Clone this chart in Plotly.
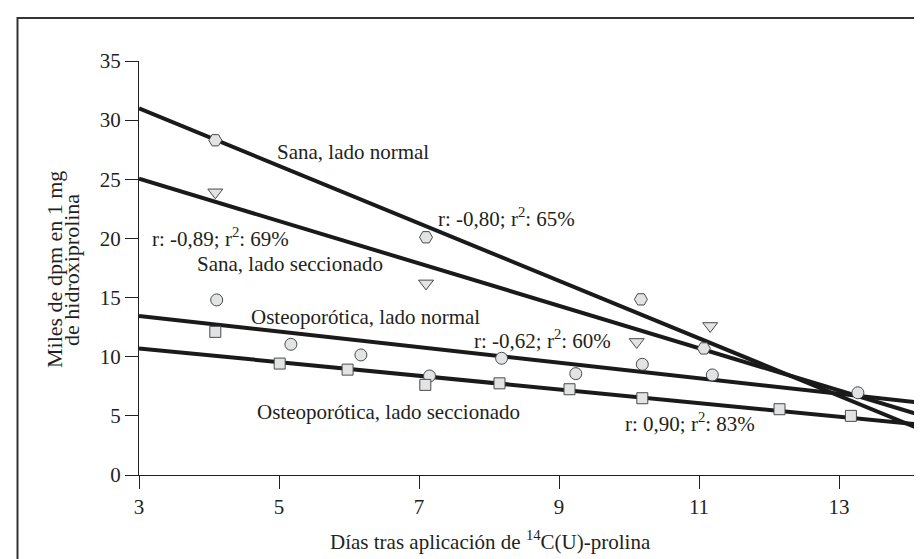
import plotly.graph_objects as go

# ---- data ----
hex_x = [4.09, 7.10, 10.17, 11.07]          # Sana, lado normal
hex_y = [28.3, 20.1, 14.85, 10.7]
tri_x = [4.09, 7.10, 10.11, 11.16]          # Sana, lado seccionado
tri_y = [23.9, 16.2, 11.25, 12.6]
circ_x = [4.11, 5.17, 6.17, 7.15, 8.18, 9.24, 10.19, 11.19, 13.27]   # Osteoporótica, lado normal
circ_y = [14.8, 11.05, 10.15, 8.37, 9.87, 8.57, 9.36, 8.46, 6.95]
sq_x = [4.09, 5.01, 5.98, 7.09, 8.15, 9.15, 10.19, 12.15, 13.17]     # Osteoporótica, lado seccionado
sq_y = [12.1, 9.42, 8.91, 7.62, 7.75, 7.25, 6.49, 5.56, 5.0]

line_x = [3.0, 14.17]
line_sana_normal = [31.0, 3.85]
line_sana_secc = [25.05, 5.05]
line_osteo_normal = [13.45, 6.1]
line_osteo_secc = [10.7, 4.25]

x_ticks = [3, 5, 7, 9, 11, 13]
y_ticks = [0, 5, 10, 15, 20, 25, 30, 35]

labels_text = ["Sana, lado normal", "r: -0,80; r<sup>2</sup>: 65%",
               "r: -0,89; r<sup>2</sup>: 69%", "Sana, lado seccionado",
               "Osteoporótica, lado normal", "r: -0,62; r<sup>2</sup>: 60%",
               "Osteoporótica, lado seccionado", "r: 0,90; r<sup>2</sup>: 83%"]
labels_x = [6.06, 8.25, 4.16, 5.15, 6.23, 8.76, 6.57, 10.87]
labels_y = [27.33, 21.8, 20.06, 17.8, 13.39, 11.47, 5.3, 4.43]

FONT = "Liberation Serif, Times New Roman, serif"
TXT = "#231f20"
FILL = "#e2e3e4"
EDGE = "#4a4a4a"

fig = go.Figure()
for ys in [line_sana_normal, line_sana_secc, line_osteo_normal, line_osteo_secc]:
    fig.add_trace(go.Scatter(x=line_x, y=ys, mode="lines",
                             line=dict(color="#1a1a1a", width=4), hoverinfo="skip"))

def pts(x, y, sym, size):
    fig.add_trace(go.Scatter(x=x, y=y, mode="markers",
                             marker=dict(symbol=sym, size=size, color=FILL,
                                         line=dict(color=EDGE, width=1))))

pts(hex_x, hex_y, "hexagon2", 13)
pts(tri_x, tri_y, "triangle-down", 13)
pts(circ_x, circ_y, "circle", 12)
pts(sq_x, sq_y, "square", 11)

for t, x, y in zip(labels_text, labels_x, labels_y):
    fig.add_annotation(x=x, y=y, text=t, showarrow=False, xanchor="center", yanchor="middle",
                       font=dict(family=FONT, size=21, color=TXT))

# axis titles
fig.add_annotation(xref="paper", yref="paper", x=(46 - 131) / 782, y=(467 - 262) / 414,
                   text="Miles de dpm en 1 mg", textangle=-90, showarrow=False,
                   xanchor="center", yanchor="middle", font=dict(family=FONT, size=22, color=TXT))
fig.add_annotation(xref="paper", yref="paper", x=(63 - 131) / 782, y=(467 - 262) / 414,
                   text="de hidroxiprolina", textangle=-90, showarrow=False,
                   xanchor="center", yanchor="middle", font=dict(family=FONT, size=22, color=TXT))
fig.add_annotation(xref="paper", yref="paper", x=(482 - 131) / 782, y=(467 - 532) / 414,
                   text="Días tras aplicación de <sup>14</sup>C(U)-prolina", showarrow=False,
                   xanchor="center", yanchor="middle", font=dict(family=FONT, size=21, color=TXT))

# outer frame
fig.add_shape(type="rect", xref="paper", yref="paper",
              x0=(9.5 - 131) / 782, x1=1.1, y0=-0.5, y1=(467 - 10) / 414,
              line=dict(color="#333333", width=2), fillcolor="rgba(0,0,0,0)")

axis_common = dict(showline=True, linecolor="#231f20", linewidth=1.3, ticks="outside",
                   ticklen=13, tickwidth=1.3, tickcolor="#231f20", showgrid=False,
                   zeroline=False, tickfont=dict(family=FONT, size=21, color=TXT))
fig.update_xaxes(range=[3, 3 + 782 / 70], tickvals=x_ticks, **axis_common)
fig.update_yaxes(range=[0, 35], tickvals=y_ticks, **axis_common)

fig.update_layout(width=922, height=559, margin=dict(l=131, r=9, t=53, b=92),
                  plot_bgcolor="white", paper_bgcolor="white", showlegend=False)

fig.write_html("out.html")
